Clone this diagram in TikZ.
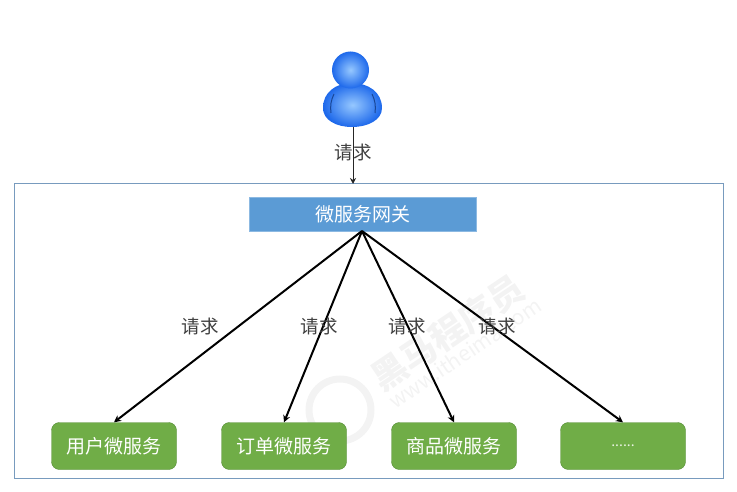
\documentclass[tikz,border=0pt]{standalone}
\usepackage{fontspec}
\setmainfont{Noto Sans CJK SC}
\usetikzlibrary{positioning,arrows.meta}
\definecolor{framec}{RGB}{120,155,190}
\definecolor{gatec}{RGB}{91,155,213}
\definecolor{svcc}{RGB}{112,173,71}
\definecolor{svcl}{RGB}{84,140,52}
\definecolor{markc}{RGB}{243,243,243}
\definecolor{userin}{RGB}{150,200,255}
\definecolor{userout}{RGB}{30,105,235}
\definecolor{userseam}{RGB}{25,70,150}
\tikzset{
  svcbox/.style={draw=svcl,fill=svcc,rounded corners=8pt,minimum width=125bp,minimum height=47bp,text=white,font=\fontsize{19bp}{21bp}\selectfont,inner sep=0pt},
  reqlabel/.style={font=\fontsize{18.5bp}{20bp}\selectfont,text=black!75,inner sep=0pt},
  reqline/.style={draw=black,line width=2bp,-{Stealth[length=7bp,width=7bp]}},
  markzh/.style={rotate=34,text=markc,font=\bfseries\fontsize{35bp}{38bp}\selectfont,inner sep=0pt},
  userpart/.style={inner color=userin,outer color=userout},
}
\begin{document}
\begin{tikzpicture}[x=1bp,y=-1bp]
  \useasboundingbox (0,0) rectangle (737,492);
  % outer frame
  \node[draw=framec,line width=.9bp,minimum width=709bp,minimum height=295bp,inner sep=0pt] (frame) at (368.5,330.5) {};
  % watermark
  \node[markzh] (marktext) at (448,333) {黑马程序员};
  \node[rotate=34,text=markc,font=\fontsize{21bp}{23bp}\selectfont,inner sep=0pt] (markurl) at (465,353) {www.itheima.com};
  \node[draw=markc,line width=7bp,circle,minimum size=62bp,inner sep=0pt] (marklogo) at (340,410) {};
  % user icon
  \shade[userpart] (352,83) .. controls (368,83) and (382,92) .. (382,108) .. controls (382,120) and (368,127) .. (352,127) .. controls (336,127) and (323,120) .. (323,108) .. controls (323,92) and (336,83) .. (352,83) -- cycle;
  \draw[userseam,line width=1bp] (334,94) .. controls (331,100) and (330,106) .. (331,113);
  \draw[userseam,line width=1bp] (372,94) .. controls (375,100) and (376,106) .. (375,113);
  \node[circle,userpart,minimum size=37bp,inner sep=0pt] (user) at (350.5,70) {};
  \coordinate (usertail) at (353,127);
  % gateway
  \node[draw=gatec!70!white,fill=gatec,minimum width=227bp,minimum height=34bp,text=white,font=\fontsize{19bp}{21bp}\selectfont,inner sep=0pt] (gateway) at (362.5,214) {微服务网关};
  \coordinate (gatein) at (353,184);
  \coordinate (gateout) at (362,231);
  % services
  \node[svcbox] (userservice) at (114,446) {用户微服务};
  \node[svcbox] (orderservice) at (284,446) {订单微服务};
  \node[svcbox] (goodsservice) at (454,446) {商品微服务};
  \node[svcbox,font=\fontsize{14bp}{16bp}\selectfont,text=white!85!svcc] (moreservice) at (623,446) {......};
  % arrows
  \draw[draw=black!85,line width=1bp,-{Stealth[length=6bp,width=6bp]}] (usertail) -- (gatein);
  \draw[reqline] (gateout) -- (userservice.north);
  \draw[reqline] (gateout) -- (orderservice.north);
  \draw[reqline] (gateout) -- (goodsservice.north);
  \draw[reqline] (gateout) -- (moreservice.north);
  % labels
  \node[reqlabel] (reqtop) at (353,152) {请求};
  \node[reqlabel] (reqa) at (200,326) {请求};
  \node[reqlabel] (reqb) at (319,326) {请求};
  \node[reqlabel] (reqc) at (407,326) {请求};
  \node[reqlabel] (reqd) at (497,326) {请求};
\end{tikzpicture}
\end{document}
